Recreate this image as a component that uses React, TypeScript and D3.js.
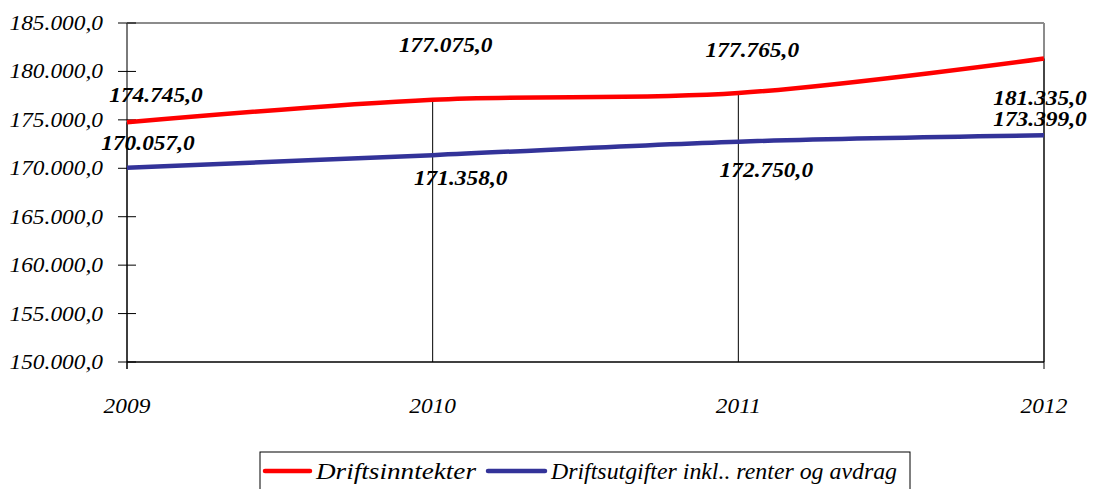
import React from "react";
import * as d3 from "d3";

const years = ["2009", "2010", "2011", "2012"];
const driftsinntekter = [174745, 177075, 177765, 181335];
const driftsutgifter = [170057, 171358, 172750, 173399];
const yTicks = [150000, 155000, 160000, 165000, 170000, 175000, 180000, 185000];
const seriesNames = ["Driftsinntekter", "Driftsutgifter inkl.. renter og avdrag"];
const seriesColors = ["#FF0000", "#333399"];
// label offsets (dx, dy) relative to each point
const redLabelOffsets = [[29, -20], [13, -48], [14, -36], [-4, 47]];
const blueLabelOffsets = [[21, -18], [28, 30], [28, 35], [-4, -9]];

const W = 1096, H = 489;
const M = { left: 127, right: 1044, top: 23, bottom: 362 };
const FS = { fontFamily: "Liberation Serif" };

function fmt(v: number) {
  const s = Math.round(v).toString();
  return s.replace(/\B(?=(\d{3})+(?!\d))/g, ".") + ",0";
}

export default function App() {
  const x = d3.scalePoint<string>().domain(years).range([M.left, M.right]);
  const y = d3.scaleLinear().domain([150000, 185000]).range([M.bottom, M.top]);
  const line = d3
    .line<number>()
    .x((_, i) => x(years[i])!)
    .y((d) => y(d))
    .curve(d3.curveCardinal.tension(0));
  const series = [driftsinntekter, driftsutgifter];
  const offsets = [redLabelOffsets, blueLabelOffsets];
  const sx = 1.17;
  return (
    <svg width={W} height={H} style={{ position: "absolute", left: 0, top: 0, background: "#fff" }}>
      <rect x={0} y={0} width={W} height={H} fill="#fff" />
      {/* plot border top/right gray */}
      <line x1={M.left} x2={M.right} y1={M.top} y2={M.top} stroke="#8c8c8c" strokeWidth={2} />
      <line x1={M.right} x2={M.right} y1={M.top} y2={M.bottom} stroke="#8c8c8c" strokeWidth={2} />
      {/* left axis */}
      <line x1={M.left} x2={M.left} y1={M.top} y2={M.bottom + 7} stroke="#7a7a7a" strokeWidth={2} />
      {yTicks.map((t) => (
        <g key={t}>
          <line x1={M.left - 9} x2={M.left + 9} y1={y(t)} y2={y(t)} stroke="#000" strokeWidth={1} />
          <text
            transform={`translate(103,${y(t) + 7}) scale(${sx},1)`}
            textAnchor="end"
            style={FS}
            fontStyle="italic"
            fontSize={20}
            fill="#000"
          >
            {fmt(t)}
          </text>
        </g>
      ))}
      {/* drop lines */}
      {years.map((yr, i) => (
        <line
          key={yr}
          x1={x(yr)}
          x2={x(yr)}
          y1={y(Math.max(driftsinntekter[i], driftsutgifter[i]))}
          y2={M.bottom}
          stroke="#000"
          strokeWidth={1}
        />
      ))}
      {/* bottom axis */}
      <line x1={M.left} x2={M.right} y1={M.bottom} y2={M.bottom} stroke="#000" strokeWidth={1.5} />
      {[years[0], years[years.length - 1]].map((yr) => (
        <line key={yr} x1={x(yr)} x2={x(yr)} y1={M.bottom} y2={M.bottom + 7} stroke="#000" strokeWidth={1} />
      ))}
      {years.map((yr) => (
        <text
          key={yr}
          transform={`translate(${x(yr)},413) scale(${sx},1)`}
          textAnchor="middle"
          style={FS}
          fontStyle="italic"
          fontSize={20}
          fill="#000"
        >
          {yr}
        </text>
      ))}
      {/* lines */}
      {series.map((s, k) => (
        <path key={k} d={line(s)!} fill="none" stroke={seriesColors[k]} strokeWidth={4.5} strokeLinecap="butt" />
      ))}
      {/* data labels */}
      {series.map((s, k) =>
        s.map((v, i) => (
          <text
            key={`${k}-${i}`}
            transform={`translate(${x(years[i])! + offsets[k][i][0]},${y(v) + offsets[k][i][1]}) scale(${sx},1)`}
            textAnchor="middle"
            style={FS}
            fontStyle="italic"
            fontWeight="bold"
            fontSize={20}
            fill="#000"
          >
            {fmt(v)}
          </text>
        ))
      )}
      {/* legend */}
      <rect x={260} y={452} width={650} height={50} fill="#fff" stroke="#000" strokeWidth={1} />
      <line x1={265} x2={310} y1={471} y2={471} stroke={seriesColors[0]} strokeWidth={4.5} strokeLinecap="round" />
      <text
        x={316}
        y={479}
        textLength={160}
        lengthAdjust="spacingAndGlyphs"
        style={FS}
        fontStyle="italic"
        fontSize={24}
        fill="#000"
      >
        {seriesNames[0]}
      </text>
      <line x1={488} x2={545} y1={471} y2={471} stroke={seriesColors[1]} strokeWidth={4.5} strokeLinecap="round" />
      <text
        x={551}
        y={479}
        textLength={346}
        lengthAdjust="spacingAndGlyphs"
        style={FS}
        fontStyle="italic"
        fontSize={24}
        fill="#000"
      >
        {seriesNames[1]}
      </text>
    </svg>
  );
}
